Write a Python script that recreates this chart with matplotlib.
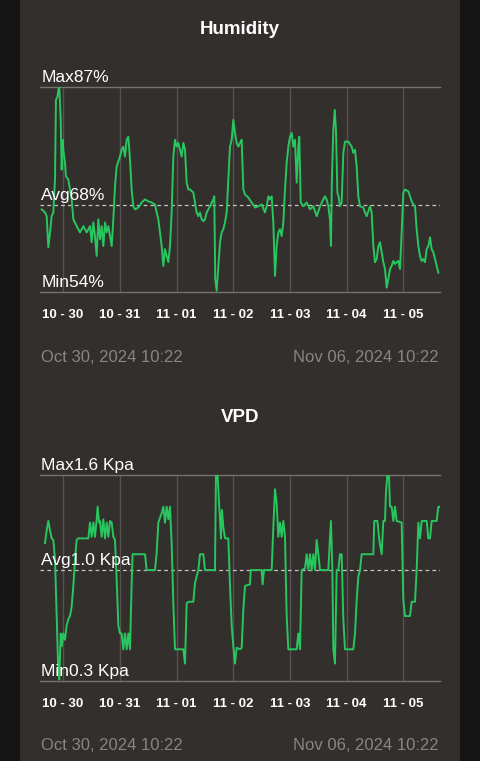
import matplotlib
matplotlib.use("Agg")
import matplotlib.pyplot as plt
from matplotlib.patches import Rectangle

plt.rcParams['font.family'] = ['Liberation Sans', 'DejaVu Sans']

# hours since Oct 30 10:22
hum_hours = [0.7, 2.1, 2.8, 3.5, 4.2, 4.9, 5.6, 6.3, 6.7, 7.3, 7.7, 8.1, 8.7, 9.1, 9.5, 9.8,
             10.5, 10.9, 11.9, 12.6, 13.3, 14.0, 15.4, 16.8, 18.2, 19.6, 21.0, 21.7, 22.4, 23.1,
             23.8, 24.5, 25.2, 25.9, 26.6, 27.3, 28.0, 28.7, 29.4, 30.1, 30.8, 31.5, 32.2, 33.6,
             34.3, 35.0, 35.7, 36.4, 37.1, 37.8, 38.5, 39.2, 39.9, 41.3, 42.7, 44.1, 45.5, 46.9,
             48.3, 49.0, 49.7, 50.4, 51.1, 51.8, 52.5, 53.2, 53.9, 54.6, 55.3, 56.0, 56.7, 57.4,
             58.1, 58.8, 59.5, 60.2, 60.9, 61.6, 62.3, 63.0, 64.4, 65.8, 66.5, 67.2, 67.9, 68.6,
             69.3, 70.0, 70.7, 71.4, 72.1, 72.8, 73.2, 73.6, 74.2, 74.9, 75.6, 76.3, 77.0, 77.7,
             78.4, 79.1, 79.8, 80.5, 81.2, 81.9, 82.6, 83.3, 84.0, 84.7, 85.4, 86.1, 87.5, 88.9,
             90.3, 91.7, 93.1, 94.5, 95.2, 95.9, 96.6, 97.3, 98.0, 98.7, 99.4, 100.1, 100.8, 101.5,
             102.2, 102.9, 103.6, 104.3, 105.0, 105.7, 106.4, 107.1, 107.8, 108.5, 108.9, 109.5,
             110.6, 112.0, 113.4, 114.8, 116.2, 117.6, 119.0, 119.7, 120.4, 121.1, 121.8, 122.2,
             122.6, 123.2, 123.8, 124.3, 124.9, 125.4, 126.0, 126.7, 127.4, 128.1, 129.5, 130.9,
             131.6, 132.3, 133.0, 133.7, 134.4, 135.8, 136.5, 137.2, 138.6, 139.3, 140.0, 140.7,
             141.4, 142.1, 142.8, 143.5, 144.2, 144.9, 145.6, 146.3, 147.0, 147.7, 148.4, 149.1,
             149.8, 150.5, 151.2, 151.9, 152.6, 153.3, 154.7, 155.4, 156.1, 156.8, 157.5, 158.2,
             158.9, 159.6, 160.3, 161.0, 161.7, 162.4, 163.1, 163.8, 164.5, 165.2, 165.9, 166.6,
             167.3]
humidity = [67.3, 66.8, 66.2, 61.2, 63.6, 66.2, 66.8, 72.1, 84.9, 85.4, 86.5, 87.0, 81.7, 73.7,
            78.5, 76.9, 74.8, 72.6, 72.1, 70.5, 68.9, 65.7, 64.6, 63.6, 64.6, 63.6, 64.6, 62.0,
            65.2, 63.0, 59.8, 65.7, 62.5, 64.6, 61.4, 65.2, 63.6, 64.6, 63.0, 61.4, 65.7, 71.0,
            74.2, 75.8, 76.9, 77.4, 75.8, 78.5, 79.0, 75.3, 70.5, 67.8, 67.3, 67.6, 68.4, 68.9,
            68.6, 68.4, 68.1, 66.8, 65.7, 63.6, 61.4, 58.2, 60.9, 59.8, 58.8, 61.4, 66.8, 75.8,
            78.5, 77.4, 78.0, 76.9, 75.8, 78.0, 76.9, 71.6, 70.5, 70.5, 70.0, 66.8, 66.2, 66.8,
            65.7, 65.4, 65.7, 66.8, 67.3, 67.8, 68.4, 68.9, 69.4, 56.1, 54.2, 58.2, 62.0, 63.6,
            64.1, 65.2, 66.8, 72.1, 77.4, 78.5, 81.7, 79.6, 78.0, 77.4, 78.0, 78.5, 70.5, 69.7,
            69.2, 68.4, 67.6, 67.8, 68.1, 66.8, 67.8, 69.4, 68.9, 69.4, 65.2, 56.6, 61.4, 63.6,
            64.1, 63.0, 65.2, 70.5, 74.8, 77.4, 79.0, 79.6, 77.4, 78.5, 71.6, 77.4, 79.0, 68.4,
            67.8, 68.4, 67.3, 67.8, 66.2, 67.8, 68.9, 69.4, 68.9, 67.8, 65.7, 61.4, 72.1, 80.1,
            83.3, 80.1, 70.0, 69.4, 67.8, 68.4, 76.4, 78.2, 78.2, 77.4, 76.4, 76.9, 74.2, 69.4,
            67.8, 67.6, 66.8, 66.2, 67.8, 66.8, 61.4, 58.8, 59.3, 61.4, 62.0, 60.4, 58.8, 57.7,
            54.7, 56.1, 57.7, 58.2, 59.0, 58.5, 58.8, 59.0, 57.7, 63.6, 70.0, 70.5, 70.2, 69.4,
            68.6, 68.1, 67.8, 64.1, 61.4, 59.8, 59.0, 59.3, 58.8, 60.9, 61.4, 62.8, 60.9, 60.4,
            59.3, 58.2, 57.1]

vpd_hours = [2.1, 2.8, 3.5, 4.2, 4.9, 5.6, 6.3, 7.0, 7.7, 8.1, 8.7, 9.1, 9.8, 10.5, 11.2, 11.9,
             12.6, 13.3, 14.0, 14.7, 15.4, 16.1, 20.3, 21.0, 21.7, 22.4, 23.1, 23.8, 24.2, 24.8,
             25.2, 25.9, 26.6, 27.3, 28.0, 28.7, 29.4, 30.1, 30.8, 31.5, 32.2, 32.9, 33.6, 34.3,
             35.0, 35.7, 36.4, 37.1, 37.8, 38.5, 38.9, 44.1, 44.8, 48.3, 49.0, 49.7, 51.1, 51.8,
             52.5, 53.2, 53.9, 54.6, 55.3, 56.0, 56.7, 60.2, 60.9, 61.6, 62.3, 64.4, 65.1, 66.5,
             67.2, 68.6, 69.3, 73.5, 73.9, 74.6, 75.2, 75.6, 76.0, 76.4, 77.0, 77.7, 79.1, 79.8,
             80.5, 81.2, 81.9, 82.6, 84.0, 84.7, 85.4, 86.1, 88.2, 88.5, 93.1, 93.5, 94.1, 97.3,
             98.0, 98.7, 99.4, 100.1, 100.8, 101.5, 102.2, 102.9, 103.6, 104.3, 107.8, 108.5,
             109.2, 109.9, 111.3, 112.0, 112.7, 113.4, 114.1, 114.8, 115.5, 116.2, 116.9, 117.6,
             121.1, 121.8, 122.2, 122.8, 123.2, 123.9, 124.6, 125.3, 126.0, 126.7, 127.4, 128.1,
             131.6, 132.3, 133.0, 133.7, 134.4, 135.1, 140.0, 140.4, 141.7, 142.5, 143.5, 144.2,
             144.9, 145.3, 145.9, 146.6, 147.0, 147.7, 148.4, 149.1, 149.8, 151.9, 152.6, 153.3,
             155.4, 156.1, 157.5, 158.2, 158.9, 159.6, 160.3, 162.4, 163.1, 163.8, 164.5, 166.6,
             167.3, 167.7]
vpd = [1.17, 1.25, 1.31, 1.25, 1.20, 1.19, 1.07, 0.71, 0.35, 0.31, 0.60, 0.52, 0.60, 0.56, 0.65,
       0.69, 0.71, 0.77, 0.90, 1.07, 1.19, 1.20, 1.20, 1.30, 1.21, 1.30, 1.21, 1.32, 1.40, 1.30,
       1.31, 1.21, 1.32, 1.20, 1.30, 1.21, 1.31, 1.30, 1.21, 1.19, 0.94, 0.65, 0.60, 0.60, 0.50,
       0.60, 0.50, 0.60, 0.50, 0.92, 1.10, 1.10, 1.00, 1.00, 1.11, 1.30, 1.36, 1.40, 1.30, 1.40,
       1.32, 1.40, 1.17, 0.79, 0.50, 0.50, 0.41, 0.79, 0.80, 0.80, 0.92, 1.00, 1.10, 1.10, 1.00,
       1.00, 1.60, 1.60, 1.42, 1.32, 1.20, 1.38, 1.27, 1.20, 1.20, 0.90, 0.65, 0.52, 0.41, 0.51,
       0.50, 0.51, 0.75, 0.90, 0.91, 1.00, 1.00, 0.91, 1.00, 1.00, 1.27, 1.51, 1.42, 1.21, 1.30,
       1.21, 1.31, 1.21, 0.71, 0.50, 0.50, 0.60, 0.50, 1.00, 1.01, 1.10, 1.00, 1.10, 1.00, 1.10,
       1.00, 1.19, 1.10, 1.00, 1.00, 1.21, 1.31, 1.00, 0.50, 0.41, 1.00, 1.00, 1.10, 1.10, 0.69,
       0.50, 0.50, 0.60, 0.81, 0.96, 1.00, 1.10, 1.10, 1.31, 1.31, 1.19, 1.10, 1.31, 1.31, 1.49,
       1.60, 1.59, 1.40, 1.40, 1.31, 1.40, 1.31, 1.30, 0.81, 0.71, 0.71, 0.80, 0.80, 1.00, 1.30,
       1.20, 1.31, 1.31, 1.20, 1.20, 1.31, 1.31, 1.40, 1.40]

day_ticks = [9.7, 33.5, 57.4, 81.0, 105.0, 128.8, 152.4]
day_labels = ['10 - 30', '10 - 31', '11 - 01', '11 - 02', '11 - 03', '11 - 04', '11 - 05']
start_label = 'Oct 30, 2024 10:22'
end_label = 'Nov 06, 2024 10:22'

charts = [
    ('Humidity', hum_hours, humidity, (54, 87), 68, ['Max87%', 'Avg68%', 'Min54%']),
    ('VPD', vpd_hours, vpd, (0.3, 1.6), 1.0, ['Max1.6 Kpa', 'Avg1.0 Kpa', 'Min0.3 Kpa']),
]

bg = '#332f2d'
W, H = 480, 761
fig = plt.figure(figsize=(4.8, 7.61), dpi=100, facecolor='#151515')
fig.patches.append(Rectangle((20 / W, 0), 440 / W, 1, transform=fig.transFigure,
                             facecolor=bg, edgecolor='none', zorder=-10))

# pixel layout of the two panels: (title y, axes top, axes bottom, dates y)
layout = [(30, 87, 292, 357), (417, 475, 681, 745)]

for (title, xs, ys, lims, avg, labels), (ty, top, bot, dy) in zip(charts, layout):
    ax = fig.add_axes([40 / W, 1 - bot / H, 400 / W, (bot - top) / H])
    ax.set_facecolor('none')
    ax.plot(xs, ys, color='#27c65f', lw=1.4, solid_joinstyle='round', zorder=3)
    ax.set_xlim(0, 168)
    ax.set_ylim(*lims)
    for s in ['left', 'right']:
        ax.spines[s].set_visible(False)
    for s in ['top', 'bottom']:
        ax.spines[s].set_color('#77726f')
        ax.spines[s].set_linewidth(1.0)
    ax.set_yticks([])
    ax.set_xticks(day_ticks)
    ax.set_xticklabels(day_labels, fontsize=9.5, fontweight='semibold', color='white')
    ax.tick_params(axis='x', length=0, pad=12)
    ax.grid(axis='x', color='#57524f', lw=1.0)
    ax.axhline(avg, color='#c8c4c1', lw=0.9, ls=(0, (3, 2.5)), zorder=2)
    for lab, val in zip(labels, [lims[1], avg, lims[0]]):
        ax.annotate(lab, xy=(0, val), xycoords=('axes fraction', 'data'),
                    xytext=(1, 3.5), textcoords='offset points',
                    fontsize=12.5, color='white', va='baseline', ha='left', zorder=4)
    fig.text(0.5, 1 - ty / H, title, ha='center', va='center',
             fontsize=13.5, fontweight='bold', color='white')
    fig.text(41 / W, 1 - dy / H, start_label, ha='left', va='center', fontsize=12, color='#8a8582')
    fig.text(439 / W, 1 - dy / H, end_label, ha='right', va='center', fontsize=12, color='#8a8582')

fig.savefig('out.png', dpi=100, facecolor=fig.get_facecolor())
